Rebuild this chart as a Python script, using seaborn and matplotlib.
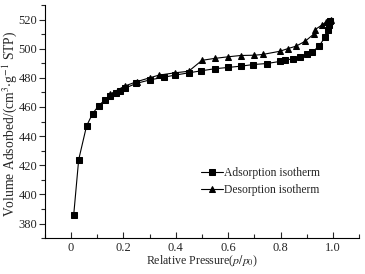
import numpy as np
import pandas as pd
import seaborn as sns
import matplotlib.pyplot as plt
from matplotlib.ticker import MultipleLocator

# adsorption branch (p/p0, cm3/g STP)
ads_p = [0.010, 0.029, 0.059, 0.082, 0.105, 0.128, 0.148, 0.171, 0.186, 0.204,
         0.248, 0.302, 0.354, 0.396, 0.449, 0.497, 0.548, 0.599, 0.649, 0.696,
         0.747, 0.797, 0.816, 0.848, 0.873, 0.899, 0.921, 0.947, 0.970, 0.980,
         0.985, 0.989]
ads_v = [385.9, 423.8, 446.9, 455.4, 460.8, 464.7, 467.6, 469.7, 470.9, 472.7,
         476.1, 478.6, 480.4, 481.8, 483.4, 484.8, 486.2, 487.1, 488.0, 489.1,
         489.8, 491.2, 491.9, 493.2, 494.4, 496.0, 497.8, 501.7, 508.1, 513.1,
         516.5, 518.8]

# desorption branch, high to low pressure
des_p = [0.991, 0.975, 0.960, 0.932, 0.928, 0.894, 0.859, 0.829, 0.797, 0.731,
         0.700, 0.647, 0.599, 0.548, 0.500, 0.449, 0.396, 0.335, 0.300, 0.250,
         0.204, 0.147]
des_v = [519.4, 518.4, 516.5, 513.1, 510.2, 505.1, 501.7, 500.1, 498.2, 496.0,
         495.5, 495.3, 494.4, 493.3, 492.0, 484.5, 483.4, 481.8, 480.0, 477.3,
         474.3, 468.6]

df = pd.concat([
    pd.DataFrame({'p': ads_p, 'v': ads_v, 'branch': 'Adsorption isotherm'}),
    pd.DataFrame({'p': des_p, 'v': des_v, 'branch': 'Desorption isotherm'}),
], ignore_index=True)

sns.set_style('ticks')
plt.rcParams['font.family'] = ['Liberation Serif', 'DejaVu Serif']
plt.rcParams['mathtext.fontset'] = 'stix'

fig = plt.figure(figsize=(3.65, 2.74), dpi=100)
ax = fig.add_axes([0.123, 0.131, 0.861, 0.851])

sns.lineplot(data=df, x='p', y='v', hue='branch', style='branch',
             palette=['black', 'black'], markers=['s', '^'], dashes=False,
             sort=False, estimator=None, linewidth=0.8, markersize=4.5,
             markeredgecolor='black', ax=ax)

ax.set_xlim(-0.1, 1.1)
ax.set_ylim(370, 530)
ax.xaxis.set_minor_locator(MultipleLocator(0.1))
ax.yaxis.set_minor_locator(MultipleLocator(10))
ax.set_xticks([0, 0.2, 0.4, 0.6, 0.8, 1.0])
ax.set_xticklabels(['0', '0.2', '0.4', '0.6', '0.8', '1.0'])
ax.set_yticks(range(380, 521, 20))
ax.tick_params(axis='x', which='both', direction='in', labelsize=9, width=0.8, pad=2.5)
ax.tick_params(axis='x', which='major', length=4)
ax.tick_params(axis='x', which='minor', length=3)
ax.tick_params(axis='y', which='both', direction='out', labelsize=9, width=0.8, pad=1.5)
ax.tick_params(axis='y', which='major', length=4)
ax.tick_params(axis='y', which='minor', length=3)
sns.despine(ax=ax)
for s in ['left', 'bottom']:
    ax.spines[s].set_linewidth(0.8)
    ax.spines[s].set_color('black')

ax.set_xlabel('Relative Pressure($p/p_0$)', fontsize=8.6, labelpad=0)
ax.set_ylabel('Volume Adsorbed/(cm$^3$$\\cdot$g$^{-1}$ STP)', fontsize=9.8)
ax.yaxis.set_label_coords(-0.083, 0.49)

ax.legend(title=None, frameon=False, fontsize=8.4, loc='center left',
          bbox_to_anchor=(0.496, 0.242), handlelength=1.9, handletextpad=0.1,
          labelspacing=0.45, borderpad=0, borderaxespad=0)

fig.savefig('out.png', dpi=100)
